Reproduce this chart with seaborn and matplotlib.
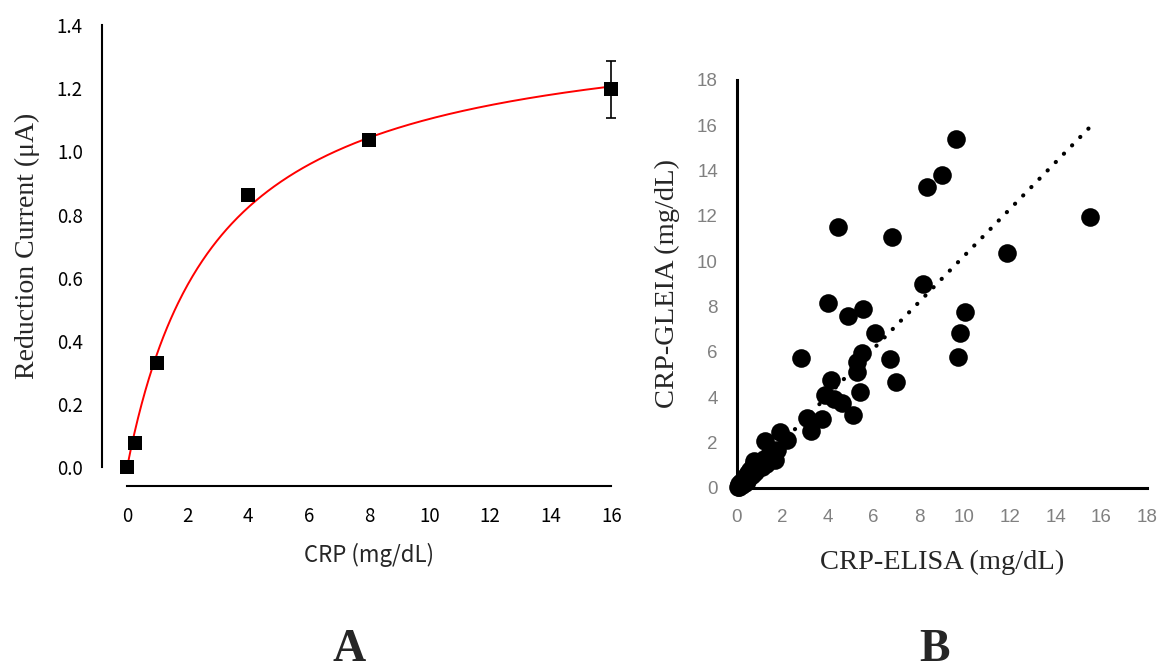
import numpy as np
import pandas as pd
import matplotlib
matplotlib.use("Agg")
import matplotlib.pyplot as plt
import seaborn as sns

# ---------------- data: panel A (calibration) ----------------
crp_conc = [0, 0.25, 1, 4, 8, 16]
current_mean = [0.0, 0.078, 0.329, 0.862, 1.035, 1.196]
current_err = [0.005, 0.006, 0.008, 0.012, 0.012, 0.09]
# fitted saturation curve parameters
fit_bmax = 1.427
fit_kd = 2.94

# ---------------- data: panel B (method comparison) ----------------
elisa = [9.63, 9.00, 8.34, 15.51, 4.43, 6.80, 11.85, 8.19, 4.02, 4.90,
         5.53, 10.02, 6.07, 9.80, 9.73, 2.80, 6.74, 5.49, 5.27, 5.27,
         7.00, 4.12, 5.41, 3.88, 4.25, 4.61, 5.12, 3.75, 3.07, 3.25,
         1.90, 2.19, 1.24, 1.70, 1.55, 1.76,
         0.05, 0.08, 0.12, 0.15, 0.20, 0.25, 0.30, 0.35, 0.40, 0.45,
         0.50, 0.55, 0.60, 0.65, 0.70, 0.80, 0.85, 0.95, 1.00, 1.10,
         1.20, 1.30, 1.40, 1.50, 0.75, 1.02]
gleia = [15.38, 13.80, 13.29, 11.97, 11.52, 11.08, 10.38, 8.99, 8.14, 7.58,
         7.88, 7.77, 6.82, 6.82, 5.78, 5.71, 5.69, 5.93, 5.56, 5.12,
         4.66, 4.75, 4.22, 4.10, 3.92, 3.73, 3.19, 3.04, 3.08, 2.50,
         2.48, 2.11, 2.08, 1.22, 1.65, 1.66,
         0.05, 0.15, 0.02, 0.10, 0.25, 0.12, 0.35, 0.20, 0.50, 0.30,
         0.65, 0.45, 0.80, 0.55, 0.95, 0.70, 1.05, 0.85, 1.10, 0.90,
         1.25, 1.05, 1.45, 1.30, 1.20, 0.93]
# regression trendline
trend_slope = 1.03
trend_intercept = -0.05

left_xticks = list(range(0, 17, 2))
left_yticks = [0.0, 0.2, 0.4, 0.6, 0.8, 1.0, 1.2, 1.4]
right_ticks = list(range(0, 19, 2))

sns.set_theme(style="white")
plt.rcParams["font.family"] = ["Liberation Serif", "DejaVu Serif"]

fig = plt.figure(figsize=(11.58, 6.71), dpi=100)

# ---------------- panel A ----------------
axA = fig.add_axes([0.0878, 0.2757, 0.4621, 0.7149])
dfA = pd.DataFrame({"conc": crp_conc, "cur": current_mean, "err": current_err})
xs = np.linspace(0, max(crp_conc), 400)
dfFit = pd.DataFrame({"conc": xs, "cur": fit_bmax * xs / (fit_kd + xs)})
sns.lineplot(data=dfFit, x="conc", y="cur", ax=axA, color="red", lw=1.4, zorder=2)
axA.errorbar(dfA["conc"], dfA["cur"], yerr=dfA["err"], fmt="none",
             ecolor="black", elinewidth=1.2, capsize=3.6, capthick=1.2, zorder=3)
sns.scatterplot(data=dfA, x="conc", y="cur", ax=axA, marker="s", s=100,
                color="black", edgecolor="black", linewidth=0, zorder=4)
axA.set_xlim(-0.84, 16.84)
axA.set_ylim(-0.059, 1.459)
axA.set_xticks(left_xticks)
axA.set_yticks(left_yticks)
axA.set_yticklabels([f"{v:.1f}" for v in left_yticks])
for s in ["top", "right"]:
    axA.spines[s].set_visible(False)
for s in ["left", "bottom"]:
    axA.spines[s].set_color("black")
    axA.spines[s].set_linewidth(1.5)
axA.spines["left"].set_bounds(0, 1.4)
axA.spines["bottom"].set_bounds(0, 16)
axA.tick_params(axis="both", direction="out", length=6.5, width=1.5,
                colors="black", labelsize=13.5)
axA.tick_params(axis="x", pad=8)
axA.tick_params(axis="y", pad=7)
for lab in axA.get_xticklabels() + axA.get_yticklabels():
    lab.set_family(["Noto Sans CJK JP", "DejaVu Sans"])
axA.set_xlabel("CRP (mg/dL)", fontsize=16, family=["Noto Sans CJK JP", "DejaVu Sans"],
               labelpad=11)
axA.set_ylabel("Reduction Current (μA)", fontsize=20, family=["Liberation Serif"],
               labelpad=12)
axA.grid(False)

# ---------------- panel B ----------------
axB = fig.add_axes([0.6362, 0.2732, 0.3541, 0.6076])
dfB = pd.DataFrame({"elisa": elisa, "gleia": gleia})
tx = np.array([min(elisa), max(elisa)])
dfT = pd.DataFrame({"x": tx, "y": trend_slope * tx + trend_intercept})
axB.plot(dfT["x"], dfT["y"], color="black", lw=3.0, linestyle=(0, (0.05, 2.75)),
         dash_capstyle="round", zorder=2)
sns.scatterplot(data=dfB, x="elisa", y="gleia", ax=axB, s=180, color="black",
                linewidth=0, zorder=3, clip_on=False)
axB.set_xlim(0, 18)
axB.set_ylim(0, 18)
axB.set_xticks(right_ticks)
axB.set_yticks(right_ticks)
for s in ["top", "right"]:
    axB.spines[s].set_visible(False)
for s in ["left", "bottom"]:
    axB.spines[s].set_color("black")
    axB.spines[s].set_linewidth(2.2)
axB.tick_params(axis="both", direction="out", length=4.5, width=2.0,
                colors="black", labelcolor="#808080", labelsize=13.5)
axB.tick_params(axis="x", pad=11)
axB.tick_params(axis="y", pad=9)
for lab in axB.get_xticklabels() + axB.get_yticklabels():
    lab.set_family(["Liberation Sans", "DejaVu Sans"])
axB.set_xlabel("CRP-ELISA (mg/dL)", fontsize=20.5, labelpad=17)
axB.set_ylabel("CRP-GLEIA (mg/dL)", fontsize=20.5, labelpad=12)
axB.grid(False)

# panel letters
fig.text(349 / 1158, 1 - 661 / 671, "A", fontsize=33, fontweight="bold",
         ha="center", va="baseline", family=["Liberation Serif"])
fig.text(934 / 1158, 1 - 661 / 671, "B", fontsize=33, fontweight="bold",
         ha="center", va="baseline", family=["Liberation Serif"])

fig.savefig("out.png", dpi=100)
